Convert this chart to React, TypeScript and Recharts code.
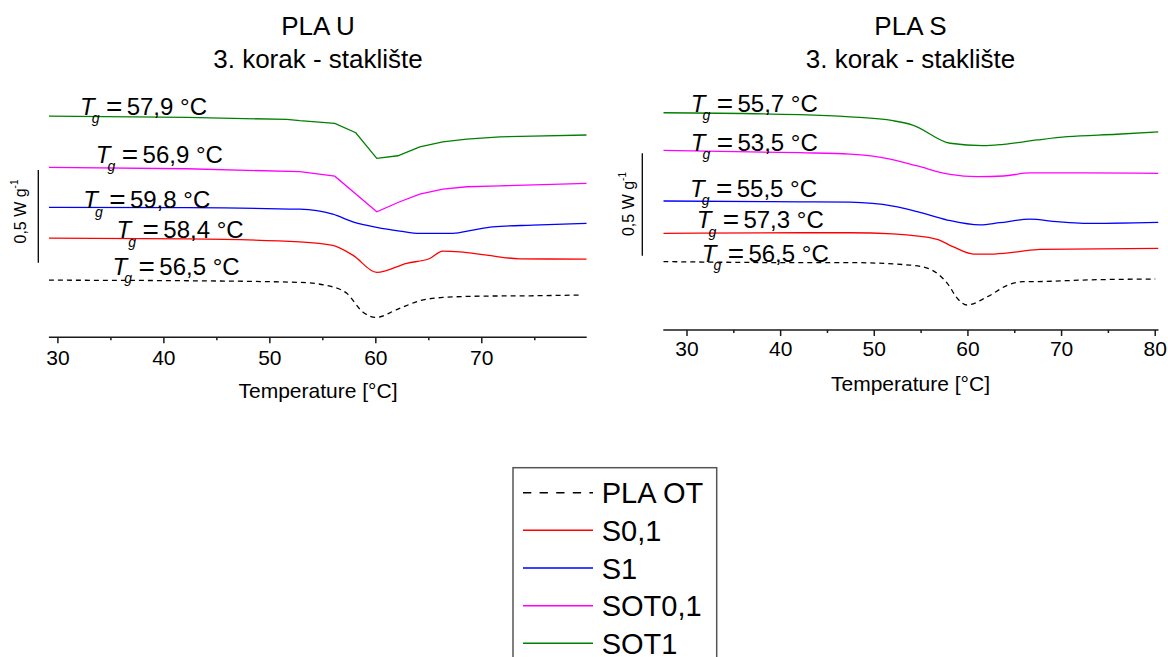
import React from 'react';
import { LineChart, Line, XAxis, YAxis, ReferenceDot } from 'recharts';

const FONT = '"Liberation Sans", Arial, Helvetica, sans-serif';

// ---------- PLA U (left panel) : [temperature °C, heat flow W/g (offset)] ----------
const uPlaOT = [[29.15,0.308],[42.2,0.305],[52.83,0.296],[55.94,0.272],[57.26,0.237],[58.77,0.137],[60.0,0.107],[62.08,0.152],[64.15,0.197],[66.32,0.215],[70.09,0.222],[74.81,0.224],[79.25,0.228]];
const uS01 = [[29.15,0.535],[42.2,0.531],[52.83,0.515],[55.94,0.496],[57.83,0.443],[60.09,0.35],[62.92,0.399],[65.09,0.425],[66.32,0.465],[67.92,0.461],[70.47,0.443],[73.58,0.423],[79.9,0.422]];
const uS1 = [[29.15,0.701],[42.2,0.699],[52.83,0.691],[55.94,0.664],[57.83,0.623],[60.09,0.593],[62.26,0.573],[64.15,0.56],[67.26,0.56],[69.15,0.578],[71.04,0.596],[74.81,0.605],[79.9,0.614]];
const uSOT01 = [[29.15,0.916],[42.2,0.909],[52.83,0.893],[56.13,0.869],[60.09,0.677],[62.26,0.731],[64.15,0.772],[66.32,0.799],[68.58,0.812],[71.7,0.817],[79.9,0.83]];
const uSOT1 = [[29.15,1.193],[42.2,1.186],[51.6,1.175],[52.83,1.168],[56.13,1.154],[58.11,1.103],[60.09,0.965],[62.08,0.979],[64.15,1.027],[66.32,1.054],[68.58,1.069],[71.7,1.081],[74.81,1.085],[79.9,1.091]];

// ---------- PLA S (right panel) ----------
const sPlaOT = [[27.47,0.334],[42.07,0.329],[47.41,0.329],[53.8,0.317],[56.0,0.296],[57.8,0.228],[58.95,0.15],[59.9,0.122],[62.1,0.163],[64.3,0.22],[65.9,0.236],[68.1,0.237],[72.3,0.244],[80.0,0.249]];
const sS01 = [[27.47,0.472],[42.07,0.475],[47.41,0.475],[52.0,0.469],[56.7,0.443],[58.4,0.407],[60.6,0.371],[62.4,0.371],[65.3,0.382],[67.7,0.394],[80.35,0.399]];
const sS1 = [[27.47,0.63],[42.07,0.626],[47.41,0.624],[52.0,0.605],[54.6,0.578],[57.8,0.537],[61.3,0.513],[63.4,0.524],[66.6,0.541],[69.5,0.529],[72.3,0.521],[80.35,0.526]];
const sSOT01 = [[27.47,0.877],[42.07,0.866],[47.41,0.859],[51.69,0.835],[54.6,0.801],[58.1,0.76],[61.0,0.749],[63.8,0.752],[66.6,0.767],[72.3,0.767],[80.35,0.765]];
const sSOT1 = [[27.47,1.061],[42.07,1.052],[47.41,1.041],[52.0,1.022],[54.1,1.001],[58.1,0.912],[61.6,0.9],[63.8,0.907],[67.4,0.928],[70.6,0.944],[75.9,0.956],[80.35,0.968]];

// ---------- Tg annotations: [label, temperature anchor, heat-flow anchor] ----------
const uTgLabels = ['57,9', '56,9', '59,8', '58,4', '56,5'];
const uTgT = [32.08, 33.58, 32.39, 35.54, 35.16];
const uTgV = [1.199, 0.942, 0.696, 0.534, 0.336];
const sTgLabels = ['55,7', '53,5', '55,5', '57,3', '56,5'];
const sTgT = [30.4, 30.4, 30.32, 31.04, 31.57];
const sTgV = [1.066, 0.875, 0.651, 0.497, 0.333];

const uTicks = [30, 35, 40, 45, 50, 55, 60, 65, 70, 75];
const sTicks = [30, 35, 40, 45, 50, 55, 60, 65, 70, 75, 80];

const seriesMeta = [
  { key: 'plaOT', name: 'PLA OT', color: '#000000', dash: '5 4' },
  { key: 's01', name: 'S0,1', color: '#ff0000', dash: undefined },
  { key: 's1', name: 'S1', color: '#0000ff', dash: undefined },
  { key: 'sot01', name: 'SOT0,1', color: '#ff00ff', dash: undefined },
  { key: 'sot1', name: 'SOT1', color: '#008000', dash: undefined },
];

const toPts = (a: number[][]) => a.map(([t, v]) => ({ t, v }));

const uData: Record<string, number[][]> = { plaOT: uPlaOT, s01: uS01, s1: uS1, sot01: uSOT01, sot1: uSOT1 };
const sData: Record<string, number[][]> = { plaOT: sPlaOT, s01: sS01, s1: sS1, sot01: sSOT01, sot1: sSOT1 };

const makeTick = (labelOffset: number) => (props: any) => {
  const { x, y, payload } = props;
  const major = payload.value % 10 === 0;
  return (
    <g>
      <line x1={x} x2={x} y1={y} y2={y + (major ? 6 : 3)} stroke="#1a1a1a" strokeWidth={1.5} />
      {major && (
        <text x={x} y={y + labelOffset} textAnchor="middle" fontSize={21} fontFamily={FONT} fill="#000">
          {payload.value}
        </text>
      )}
    </g>
  );
};

const TgLabel = ({ cx, cy, value }: { cx: number; cy: number; value: string }) => (
  <g>
    <text x={cx} y={cy} fontSize={24} fontStyle="italic" fontFamily={FONT} fill="#000">T</text>
    <text x={cx + 11.7} y={cy + 8.5} fontSize={14} fontStyle="italic" fontFamily={FONT} fill="#000">g</text>
    <text x={cx + 26} y={cy + 1} fontSize={28} fontFamily={FONT} fill="#000">=</text>
    <text x={cx + 46.7} y={cy} fontSize={24} fontFamily={FONT} fill="#000">{value} °C</text>
  </g>
);

type PanelProps = {
  data: Record<string, number[][]>;
  labels: string[];
  tgT: number[];
  tgV: number[];
  ticks: number[];
  xDomain: [number, number];
  yDomain: [number, number];
  width: number;
  height: number;
  margin: { top: number; right: number; bottom: number; left: number };
  labelOffset: number;
  linearKeys: string[];
};

const Panel = (p: PanelProps) => (
  <LineChart width={p.width} height={p.height} margin={p.margin}>
    <XAxis
      dataKey="t"
      type="number"
      domain={p.xDomain}
      allowDataOverflow
      ticks={p.ticks}
      interval={0}
      height={60}
      tickSize={0}
      tickMargin={0}
      tickLine={false}
      axisLine={{ stroke: '#1a1a1a', strokeWidth: 1.5 }}
      tick={makeTick(p.labelOffset)}
    />
    <YAxis type="number" domain={p.yDomain} allowDataOverflow hide />
    {seriesMeta.map((s) => (
      <Line
        key={s.key}
        data={toPts(p.data[s.key])}
        dataKey="v"
        type={p.linearKeys.includes(s.key) ? 'linear' : 'monotone'}
        stroke={s.color}
        strokeWidth={1.3}
        strokeDasharray={s.dash}
        dot={false}
        activeDot={false}
        isAnimationActive={false}
      />
    ))}
    {p.labels.map((lab, i) => (
      <ReferenceDot
        key={lab + i}
        x={p.tgT[i]}
        y={p.tgV[i]}
        r={0}
        ifOverflow="visible"
        shape={(sp: any) => <TgLabel cx={sp.cx} cy={sp.cy} value={lab} />}
      />
    ))}
  </LineChart>
);

const ScaleBar = ({ x, y1, y2, lx, ly }: { x: number; y1: number; y2: number; lx: number; ly: number }) => (
  <g>
    <line x1={x} x2={x} y1={y1} y2={y2} stroke="#000" strokeWidth={1.3} />
    <text
      x={lx}
      y={ly}
      transform={`rotate(-90, ${lx}, ${ly})`}
      textAnchor="middle"
      dominantBaseline="central"
      fontSize={16}
      fontFamily={FONT}
      fill="#000"
    >
      0,5 W g<tspan fontSize={10} dy={-6}>-1</tspan>
    </text>
  </g>
);

export default function App() {
  const legendRows = [492.7, 530.3, 568, 605.7, 643.3];
  return (
    <div style={{ position: 'absolute', left: 0, top: 0, width: 1168, height: 657, overflow: 'hidden', background: '#fff' }}>
      <div style={{ position: 'absolute', left: 0, top: 0 }}>
        <Panel
          data={uData}
          labels={uTgLabels}
          tgT={uTgT}
          tgV={uTgV}
          ticks={uTicks}
          xDomain={[29.15, 79.9]}
          yDomain={[0, 1.4]}
          width={600}
          height={420}
          margin={{ top: 77.7, right: 13.3, bottom: 22.7, left: 48.9 }}
          labelOffset={27.7}
          linearKeys={['sot1', 'sot01']}
        />
      </div>
      <div style={{ position: 'absolute', left: 600, top: 0 }}>
        <Panel
          data={sData}
          labels={sTgLabels}
          tgT={sTgT}
          tgV={sTgV}
          ticks={sTicks}
          xDomain={[27.47, 80.35]}
          yDomain={[0, 1.3]}
          width={568}
          height={420}
          margin={{ top: 63.8, right: 9.5, bottom: 30, left: 63.3 }}
          labelOffset={26}
          linearKeys={[]}
        />
      </div>
      <svg
        width={1168}
        height={657}
        style={{ position: 'absolute', left: 0, top: 0, pointerEvents: 'none' }}
      >
        <g fontFamily={FONT} fill="#000">
          <text x={318} y={35} textAnchor="middle" fontSize={26}>PLA U</text>
          <text x={318} y={68.3} textAnchor="middle" fontSize={26}>3. korak - staklište</text>
          <text x={910.5} y={35} textAnchor="middle" fontSize={26}>PLA S</text>
          <text x={910.5} y={68.3} textAnchor="middle" fontSize={26}>3. korak - staklište</text>
          <text x={318} y={398} textAnchor="middle" fontSize={21}>Temperature [°C]</text>
          <text x={910.5} y={391} textAnchor="middle" fontSize={21}>Temperature [°C]</text>
        </g>
        <ScaleBar x={38.3} y1={170} y2={262.7} lx={20} ly={211.5} />
        <ScaleBar x={642.3} y1={153.3} y2={255.7} lx={628.3} ly={204} />
        <rect x={513} y={467.7} width={203.7} height={260} fill="#fff" stroke="#555" strokeWidth={1.5} />
        {seriesMeta.map((s, i) => (
          <g key={s.key}>
            <line
              x1={523}
              x2={593}
              y1={legendRows[i]}
              y2={legendRows[i]}
              stroke={s.color}
              strokeWidth={1.6}
              strokeDasharray={s.dash ? '8.3 8.3' : undefined}
            />
            <text x={601.7} y={legendRows[i] + 10.5} fontSize={29} fontFamily={FONT} fill="#000">
              {s.name}
            </text>
          </g>
        ))}
      </svg>
    </div>
  );
}
